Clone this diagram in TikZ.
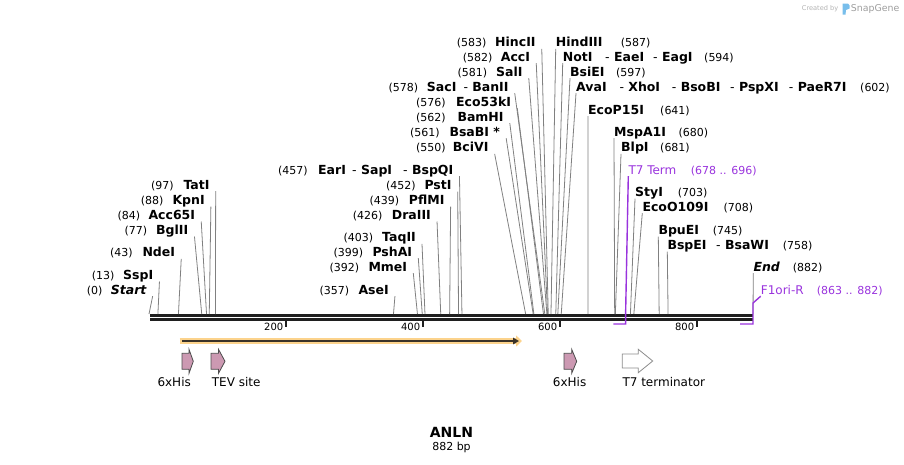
\documentclass[tikz,border=0pt]{standalone}
\usepackage{fontspec}
\setmainfont{DejaVu Sans}
\usepackage{tikz}
\usetikzlibrary{positioning}
\usetikzlibrary {arrows.meta}
\definecolor{cutgray}{RGB}{128,128,128}
\definecolor{featpurple}{RGB}{153,51,221}
\definecolor{hispink}{RGB}{204,153,178}
\definecolor{orfband}{RGB}{252,211,140}
\definecolor{orfline}{RGB}{58,50,40}
\definecolor{logoblue}{RGB}{120,190,235}
\tikzset{enzyme/.style={anchor=base west,inner xsep=0pt,inner ysep=2pt,
text depth=0pt,font=\fontsize{12.5}{14}\selectfont\bfseries}}
\tikzset{enzymel/.style={enzyme,inner xsep=6pt,xshift=-6pt}}
\tikzset{sitepos/.style={anchor=base west,inner sep=0pt,
font=\fontsize{11}{13}\selectfont}}
\tikzset{featpos/.style={anchor=base west,inner xsep=0pt,inner ysep=2pt,
text depth=0pt,text=featpurple,font=\fontsize{12}{14}\selectfont}}
\tikzset{featrange/.style={sitepos,text=featpurple}}
\tikzset{cutline/.style={draw=cutgray,line width=0.8pt}}
\tikzset{featline/.style={draw=featpurple,line width=1.4pt}}
\tikzset{backbone/.style={draw=black!88,line width=2.6pt}}
\tikzset{tickmark/.style={draw=black!88,line width=1.8pt}}
\tikzset{ticklabel/.style={anchor=base east,inner sep=0pt,
font=\fontsize{10}{12}\selectfont}}
\tikzset{hisfeat/.style={fill=hispink,draw=black!70,line width=0.8pt}}
\tikzset{termfeat/.style={fill=white,draw=black!45,line width=0.8pt}}
\tikzset{featname/.style={anchor=base west,inner sep=0pt,
font=\fontsize{12}{14}\selectfont}}

\begin{document}
\begin{tikzpicture}[x=1pt,y=-1pt]
        \useasboundingbox (0,0) rectangle (904,464);

        \foreach \p in {0,13,43,77,84,88,97,357,392,399,403,426,439,452,457,550,561,562,576,578,581,582,583,587,594,597,602,641,680,681,703,708,745,758,882}
            \coordinate (s\p) at ({149+0.6848*\p},314);

        % backbone and ruler
        \coordinate (bbl) at (150,315.3);
        \coordinate (bbr) at (753,315.3);
        \draw[backbone] (bbl) -- (bbr);
        \draw[backbone] ([yshift=-4.2pt]bbl) -- ([yshift=-4.2pt]bbr);
        \foreach \t in {200,400,600,800} {
            \coordinate (k\t) at ({149+0.6848*\t},320.5);
            \draw[tickmark] (k\t) -- ++(0,6.5);
            \node[ticklabel] (kl\t) at ({149+0.6848*\t-2.5},330.5) {\t};
        }

        % left group
        \node[sitepos] (tatin) at (151,189) {(97)};
        \node[enzymel] (tati) at (183.3,189) {TatI};
        \draw[cutline] (tati.south east) -- (s97);
        \node[sitepos] (kpnin) at (140.7,204.3) {(88)};
        \node[enzymel] (kpni) at (172.3,204.3) {KpnI};
        \draw[cutline] (kpni.south east) -- (s88);
        \node[sitepos] (acc65in) at (117.3,219.3) {(84)};
        \node[enzymel] (acc65i) at (148.3,219.3) {Acc65I};
        \draw[cutline] (acc65i.south east) -- (s84);
        \node[sitepos] (bgliin) at (124.3,234.3) {(77)};
        \node[enzymel] (bglii) at (156,234.3) {BglII};
        \draw[cutline] (bglii.south east) -- (s77);
        \node[sitepos] (ndein) at (110,256.7) {(43)};
        \node[enzymel] (ndei) at (142.3,256.7) {NdeI};
        \draw[cutline] (ndei.south east) -- (s43);
        \node[sitepos] (sspin) at (91.7,279.3) {(13)};
        \node[enzymel] (sspi) at (123,279.3) {SspI};
        \draw[cutline] (sspi.south east) -- (s13);
        \node[sitepos] (startn) at (86.7,294) {(0)};
        \node[enzymel] (start) at (110.7,294) {\itshape Start};
        \draw[cutline] (start.south east) -- (s0);

        % middle group
        \node[sitepos] (earin) at (278,174) {(457)};
        \node[enzymel] (eari) at (318,174) {EarI};
        \node[enzymel] (sapi) at (352,174) {{\mdseries -} SapI};
        \node[enzymel] (bspqi) at (403,174) {{\mdseries -} BspQI};
        \draw[cutline] (bspqi.south east) -- (s457);
        \node[sitepos] (pstin) at (386,189.3) {(452)};
        \node[enzymel] (psti) at (424.3,189.3) {PstI};
        \draw[cutline] (psti.south east) -- (s452);
        \node[sitepos] (pflmin) at (369.3,204.3) {(439)};
        \node[enzymel] (pflmi) at (408.7,204.3) {PflMI};
        \draw[cutline] (pflmi.south east) -- (s439);
        \node[sitepos] (draiiin) at (352.7,219.3) {(426)};
        \node[enzymel] (draiii) at (391.7,219.3) {DraIII};
        \draw[cutline] (draiii.south east) -- (s426);
        \node[sitepos] (taqiin) at (343.3,241.7) {(403)};
        \node[enzymel] (taqii) at (382,241.7) {TaqII};
        \draw[cutline] (taqii.south east) -- (s403);
        \node[sitepos] (pshain) at (333.3,256) {(399)};
        \node[enzymel] (pshai) at (372.3,256) {PshAI};
        \draw[cutline] (pshai.south east) -- (s399);
        \node[sitepos] (mmein) at (329.3,271) {(392)};
        \node[enzymel] (mmei) at (368.3,271) {MmeI};
        \draw[cutline] (mmei.south east) -- (s392);
        \node[sitepos] (asein) at (319.3,294) {(357)};
        \node[enzymel] (asei) at (358.3,294) {AseI};
        \draw[cutline] (asei.south east) -- (s357);

        % top group, left side
        \node[sitepos] (hinciin) at (456.7,46.7) {(583)};
        \node[enzymel] (hincii) at (495,46.7) {HincII};
        \draw[cutline] (hincii.south east) -- (s583);
        \node[sitepos] (accin) at (462.7,61) {(582)};
        \node[enzymel] (acci) at (500.7,61) {AccI};
        \draw[cutline] (acci.south east) -- (s582);
        \node[sitepos] (salin) at (457.3,76) {(581)};
        \node[enzymel] (sali) at (496,76) {SalI};
        \draw[cutline] (sali.south east) -- (s581);
        \node[sitepos] (sacin) at (388.3,91) {(578)};
        \node[enzymel] (saci) at (426.7,91) {SacI};
        \node[enzymel] (banii) at (463.3,91) {{\mdseries -} BanII};
        \draw[cutline] (banii.south east) -- (s578);
        \node[sitepos] (eco53kin) at (416,106) {(576)};
        \node[enzymel] (eco53ki) at (456,106) {Eco53kI};
        \draw[cutline] (eco53ki.south east) -- (s576);
        \node[sitepos] (bamhin) at (416,121) {(562)};
        \node[enzymel] (bamhi) at (457.3,121) {BamHI};
        \draw[cutline] (bamhi.south east) -- (s562);
        \node[sitepos] (bsabin) at (410,136) {(561)};
        \node[enzymel] (bsabi) at (449.3,136) {BsaBI *};
        \draw[cutline] (bsabi.south east) -- (s561);
        \node[sitepos] (bcivin) at (416,151.7) {(550)};
        \node[enzymel] (bcivi) at (452.7,151.7) {BciVI};
        \draw[cutline] (bcivi.south east) -- (s550);

        % top group, right side
        \node[enzyme] (hindiii) at (555.7,46.7) {HindIII};
        \node[sitepos] (hindiiin) at (620.7,46.7) {(587)};
        \draw[cutline] (hindiii.south west) -- (s587);
        \node[enzyme] (noti) at (562.7,61) {NotI};
        \node[enzyme] (eaei) at (605,61) {{\mdseries -} EaeI};
        \node[enzyme] (eagi) at (653,61) {{\mdseries -} EagI};
        \node[sitepos] (notin) at (704,61) {(594)};
        \draw[cutline] (noti.south west) -- (s594);
        \node[enzyme] (bsiei) at (570,76) {BsiEI};
        \node[sitepos] (bsiein) at (616,76) {(597)};
        \draw[cutline] (bsiei.south west) -- (s597);
        \node[enzyme] (avai) at (576,91) {AvaI};
        \node[enzyme] (xhoi) at (619.3,91) {{\mdseries -} XhoI};
        \node[enzyme] (bsobi) at (671.7,91) {{\mdseries -} BsoBI};
        \node[enzyme] (pspxi) at (730,91) {{\mdseries -} PspXI};
        \node[enzyme] (paer7i) at (788.7,91) {{\mdseries -} PaeR7I};
        \node[sitepos] (avain) at (860,91) {(602)};
        \draw[cutline] (avai.south west) -- (s602);
        \node[enzyme] (ecop15i) at (588,114) {EcoP15I};
        \node[sitepos] (ecop15in) at (660,114) {(641)};
        \draw[cutline] (ecop15i.south west) -- (s641);
        \node[enzyme] (mspa1i) at (614,136) {MspA1I};
        \node[sitepos] (mspa1in) at (678.3,136) {(680)};
        \draw[cutline] (mspa1i.south west) -- (s680);
        \node[enzyme] (blpi) at (621,151.7) {BlpI};
        \node[sitepos] (blpin) at (660,151.7) {(681)};
        \draw[cutline] (blpi.south west) -- (s681);

        % right group
        \node[enzyme] (styi) at (635,196.5) {StyI};
        \node[sitepos] (styin) at (677.7,196.5) {(703)};
        \draw[cutline] (styi.south west) -- (s703);
        \node[enzyme] (ecoo109i) at (642.3,211) {EcoO109I};
        \node[sitepos] (ecoo109in) at (723.3,211) {(708)};
        \draw[cutline] (ecoo109i.south west) -- (s708);
        \node[enzyme] (bpuei) at (658.3,234.3) {BpuEI};
        \node[sitepos] (bpuein) at (712.7,234.3) {(745)};
        \draw[cutline] (bpuei.south west) -- (s745);
        \node[enzyme] (bspei) at (667.3,249.3) {BspEI};
        \node[enzyme] (bsawi) at (716,249.3) {{\mdseries -} BsaWI};
        \node[sitepos] (bspein) at (782.7,249.3) {(758)};
        \draw[cutline] (bspei.south west) -- (s758);
        \node[enzyme] (end) at (753.3,271) {\itshape End};
        \node[sitepos] (endn) at (792.7,271) {(882)};
        \draw[cutline] (end.south west) -- (s882);

        % primer and terminator sites
        \coordinate (t7top) at (625.6,314);
        \coordinate (t7r) at (625.6,324);
        \coordinate (t7l) at (613.3,324);
        \node[featpos] (t7term) at (628.3,174) {T7 Term};
        \node[featrange] (t7termn) at (690.7,174) {(678 .. 696)};
        \draw[featline] (t7term.south west) -- (t7top) -- (t7r) -- (t7l);
        \coordinate (f1top) at (753,303);
        \coordinate (f1r) at (753,324);
        \coordinate (f1l) at (740.2,324);
        \node[featpos] (f1ori) at (760.7,294) {F1ori-R};
        \node[featrange] (f1orin) at (816.7,294) {(863 .. 882)};
        \draw[featline] (f1ori.south west) -- (f1top) -- (f1r) -- (f1l);

        % open reading frame
        \coordinate (orfs) at (179.5,341);
        \coordinate (orfe) at (522,341);
        \draw[orfband,line width=6pt,-{Triangle[length=6pt,width=11pt]}] (orfs) -- (orfe);
        \draw[orfline,line width=1.8pt,-{Triangle[length=6pt,width=6.5pt]}] ([xshift=2.5pt]orfs) -- ([xshift=-3pt]orfe);

        % features
        \draw[hisfeat] (182,353.3) -- ++(7,0) -- ++(0,-4) -- ++(4.3,12) -- ++(-4.3,12) -- ++(0,-4) -- ++(-7,0) -- cycle;
        \draw[hisfeat] (211,353.3) -- ++(7.5,0) -- ++(0,-4) -- ++(6.5,12) -- ++(-6.5,12) -- ++(0,-4) -- ++(-7.5,0) -- cycle;
        \draw[hisfeat] (564,353.3) -- ++(7.7,0) -- ++(0,-4) -- ++(5,12) -- ++(-5,12) -- ++(0,-4) -- ++(-7.7,0) -- cycle;
        \draw[termfeat] (622.3,354) -- ++(16,0) -- ++(0,-4.7) -- ++(14.4,11.7) -- ++(-14.4,11.7) -- ++(0,-4.7) -- ++(-16,0) -- cycle;
        \node[featname] (his1) at (157.3,386.7) {6xHis};
        \node[featname] (tev) at (211.7,386.7) {TEV site};
        \node[featname] (his2) at (552.7,386.7) {6xHis};
        \node[featname] (t7t) at (622.3,386.7) {T7 terminator};

        % title
        \node[anchor=base,inner sep=0pt,font=\fontsize{14}{16}\selectfont\bfseries] (title) at (451.5,437) {ANLN};
        \node[anchor=north,inner sep=0pt,font=\fontsize{11}{13}\selectfont,below=4.5pt of title] (bplen) {882 bp};

        % watermark
        \node[anchor=base west,inner sep=0pt,text=black!30,font=\fontsize{6.6}{8}\selectfont] (created) at (801.7,10.8) {Created by};
        \fill[logoblue] (842.5,3.5) -- (848,3.5) -- (849.5,5.5) -- (849.5,8.5) -- (846,10) -- (845.5,14.5) -- (842.5,14.5) -- cycle;
        \node[anchor=base west,inner sep=0pt,text=black!38,font=\fontsize{9.4}{11}\selectfont] (snapgene) at (850.7,11.8) {SnapGene};

    \end{tikzpicture}
\end{document}
